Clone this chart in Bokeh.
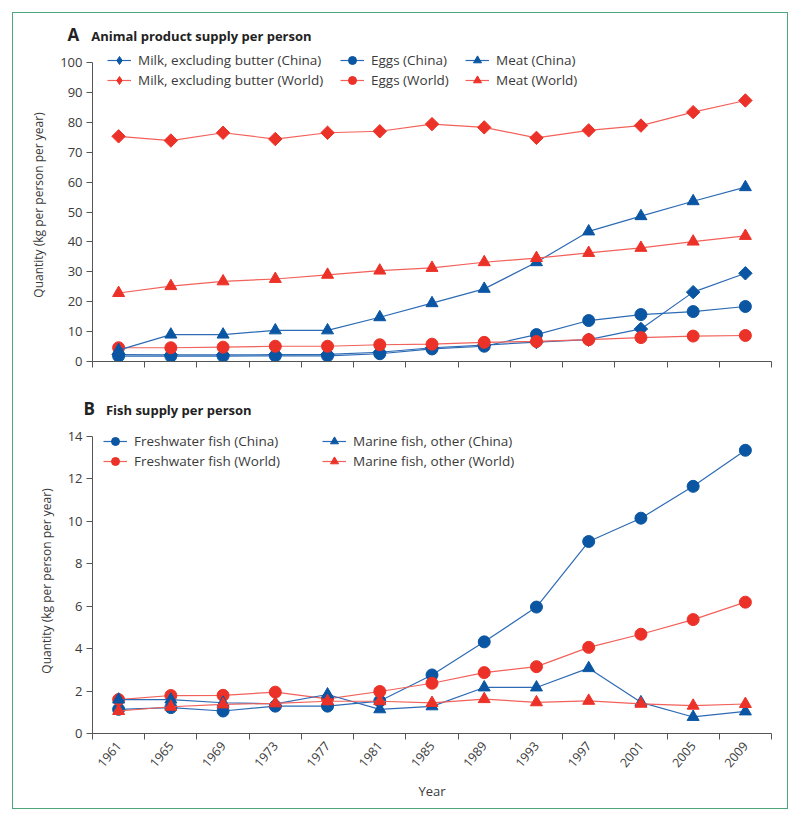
import math
from bokeh.plotting import figure
from bokeh.models import Legend, LegendItem, FixedTicker, Range1d, Div
from bokeh.layouts import column
from bokeh.embed import file_html
from bokeh.resources import INLINE

# ---------------- data ----------------
years = [1961, 1965, 1969, 1973, 1977, 1981, 1985, 1989, 1993, 1997, 2001, 2005, 2009]

milk_china = [2.3, 2.2, 2.2, 2.3, 2.4, 3.1, 4.6, 5.5, 6.5, 7.3, 10.9, 23.2, 29.5]
milk_world = [75.3, 73.9, 76.5, 74.4, 76.5, 77.0, 79.4, 78.3, 74.8, 77.3, 78.9, 83.4, 87.3]
eggs_china = [1.8, 1.8, 1.8, 1.9, 1.9, 2.6, 4.2, 5.1, 9.0, 13.7, 15.7, 16.7, 18.4]
eggs_world = [4.6, 4.6, 4.8, 5.1, 5.1, 5.6, 5.8, 6.4, 6.7, 7.3, 8.0, 8.5, 8.7]
meat_china = [3.8, 9.0, 9.0, 10.4, 10.4, 14.8, 19.5, 24.3, 33.2, 43.5, 48.6, 53.6, 58.3]
meat_world = [22.9, 25.2, 26.8, 27.6, 29.0, 30.4, 31.3, 33.2, 34.6, 36.3, 38.0, 40.1, 42.0]

fresh_china = [1.14, 1.22, 1.06, 1.29, 1.29, 1.53, 2.76, 4.32, 5.96, 9.05, 10.15, 11.65, 13.35]
fresh_world = [1.6, 1.79, 1.8, 1.95, 1.63, 1.98, 2.37, 2.87, 3.15, 4.06, 4.68, 5.37, 6.19]
marine_china = [1.6, 1.6, 1.45, 1.4, 1.84, 1.14, 1.28, 2.17, 2.17, 3.08, 1.47, 0.78, 1.04]
marine_world = [1.06, 1.26, 1.37, 1.42, 1.52, 1.52, 1.44, 1.62, 1.47, 1.54, 1.40, 1.31, 1.39]

yticks_a = list(range(0, 101, 10))
yticks_b = list(range(0, 15, 2))

# ---------------- style ----------------
FONT = "Open Sans"
TXT = "#3a3a3a"
AX = "#555555"
BLUE_M, BLUE_L = "#0b56a3", "#2d6bb5"
RED_M, RED_L = "#ec3228", "#f2615a"
boundaries = [y - 2 for y in years] + [years[-1] + 2]
W = 774


def make_fig(height, top, bottom, yticks, axis_px, labels):
    # axis_px: pixel length of the drawn y axis (0 .. last tick); the frame
    # extends a little above it to hold the legend
    frame_h = height - top - bottom
    ymax = yticks[-1] * frame_h / axis_px
    p = figure(width=W, height=height,
               x_range=Range1d(years[0] - 2, years[-1] + 2),
               y_range=Range1d(0, ymax),
               output_backend="svg", toolbar_location=None,
               min_border_left=79, min_border_right=16,
               min_border_top=top, min_border_bottom=bottom)
    p.outline_line_color = None
    p.grid.visible = False
    p.background_fill_color = "white"
    p.border_fill_color = "white"

    xa = p.xaxis[0]
    xa.ticker = FixedTicker(ticks=years if labels else [], minor_ticks=boundaries)
    xa.major_tick_line_color = None
    xa.minor_tick_in = 0
    xa.minor_tick_out = 6
    xa.minor_tick_line_color = AX
    xa.axis_line_color = AX
    xa.major_label_text_font = FONT
    xa.major_label_text_font_size = "12.5px"
    xa.major_label_text_color = TXT
    xa.major_label_orientation = 0.87
    xa.major_label_standoff = 4

    ya = p.yaxis[0]
    ya.ticker = FixedTicker(ticks=yticks)
    ya.bounds = (0, yticks[-1])
    ya.major_tick_in = 0
    ya.major_tick_out = 6
    ya.major_tick_line_color = AX
    ya.minor_tick_line_color = None
    ya.axis_line_color = AX
    ya.major_label_text_font = FONT
    ya.major_label_text_font_size = "13px"
    ya.major_label_text_color = TXT
    ya.major_label_standoff = 4
    ya.axis_label = "Quantity (kg per person per year)"
    ya.axis_label_text_font = FONT
    ya.axis_label_text_font_size = "12px"
    ya.axis_label_text_font_style = "normal"
    ya.axis_label_text_color = TXT
    ya.axis_label_standoff = 10
    return p


def add_series(p, vals, color_m, color_l, marker, size, angle=0.0, legend_marker=None):
    r1 = p.line(years, vals, line_color=color_l, line_width=1.2)
    r2 = p.scatter(years, vals, marker=marker, size=size, angle=angle,
                   fill_color=color_m, line_color=color_m)
    if legend_marker is None:
        return [r1, r2]
    # hidden twin used only as the legend swatch (legend glyphs ignore the angle)
    r3 = p.scatter(years, vals, marker=legend_marker, size=size,
                   fill_color=color_m, line_color=color_m, visible=False)
    return [r1, r3]


def add_legend(p, items, x, y):
    lg = Legend(items=[LegendItem(label=t, renderers=r) for t, r in items],
                location=(x, y), orientation="vertical",
                padding=0, spacing=0, margin=0,
                glyph_width=24, glyph_height=20, label_height=20, label_standoff=7,
                label_text_font=FONT, label_text_font_size="13.5px", label_text_color=TXT,
                inactive_fill_alpha=0, click_policy="none",
                border_line_color=None, background_fill_alpha=0)
    p.add_layout(lg, "center")


def title_div(letter, text, left, top, height, gap):
    html = (f'<div style="position:relative;left:{left}px;top:{top}px;white-space:nowrap;'
            f'font-family:\'{FONT}\';color:#222222;line-height:20px;font-weight:bold;">'
            f'<span style="font-size:17px;">{letter}</span>'
            f'<span style="font-size:13px;margin-left:{gap}px;">{text}</span></div>')
    return Div(text=html, width=W, height=height, margin=0)


# ---------------- panel A ----------------
divA = title_div("A", "Animal product supply per person", 54.5, 11.5, 33, 12)
pA = make_fig(344, 2, 29, yticks_a, 299, False)
r_mc = add_series(pA, milk_china, BLUE_M, BLUE_L, "square", 9.5, math.pi / 4, "diamond")
r_mw = add_series(pA, milk_world, RED_M, RED_L, "square", 9.5, math.pi / 4, "diamond")
r_ec = add_series(pA, eggs_china, BLUE_M, BLUE_L, "circle", 12)
r_ew = add_series(pA, eggs_world, RED_M, RED_L, "circle", 12)
r_tc = add_series(pA, meat_china, BLUE_M, BLUE_L, "triangle", 12)
r_tw = add_series(pA, meat_world, RED_M, RED_L, "triangle", 12)
add_legend(pA, [("Milk, excluding butter (China)", r_mc), ("Milk, excluding butter (World)", r_mw)], 15, 271.5)
add_legend(pA, [("Eggs (China)", r_ec), ("Eggs (World)", r_ew)], 248, 271.5)
add_legend(pA, [("Meat (China)", r_tc), ("Meat (World)", r_tw)], 373, 271.5)

# ---------------- panel B ----------------
divB = title_div("B", "Fish supply per person", 70.5, 8.5, 36, 11)
pB = make_fig(382, 2, 75, yticks_b, 297, True)
r_fc = add_series(pB, fresh_china, BLUE_M, BLUE_L, "circle", 12)
r_fw = add_series(pB, fresh_world, RED_M, RED_L, "circle", 12)
r_sc = add_series(pB, marine_china, BLUE_M, BLUE_L, "triangle", 12)
r_sw = add_series(pB, marine_world, RED_M, RED_L, "triangle", 12)
add_legend(pB, [("Freshwater fish (China)", r_fc), ("Freshwater fish (World)", r_fw)], 11, 262.5)
add_legend(pB, [("Marine fish, other (China)", r_sc), ("Marine fish, other (World)", r_sw)], 230, 262.5)
pB.xaxis[0].axis_label = "Year"
pB.xaxis[0].axis_label_text_font = FONT
pB.xaxis[0].axis_label_text_font_size = "13px"
pB.xaxis[0].axis_label_text_font_style = "normal"
pB.xaxis[0].axis_label_text_color = TXT
pB.xaxis[0].axis_label_standoff = 8

layout = column(divA, pA, divB, pB, margin=(12, 0, 0, 12),
                styles={"border": "1.5px solid #4ea77b", "background-color": "white"})

open("out.html", "w").write(file_html(layout, INLINE))
